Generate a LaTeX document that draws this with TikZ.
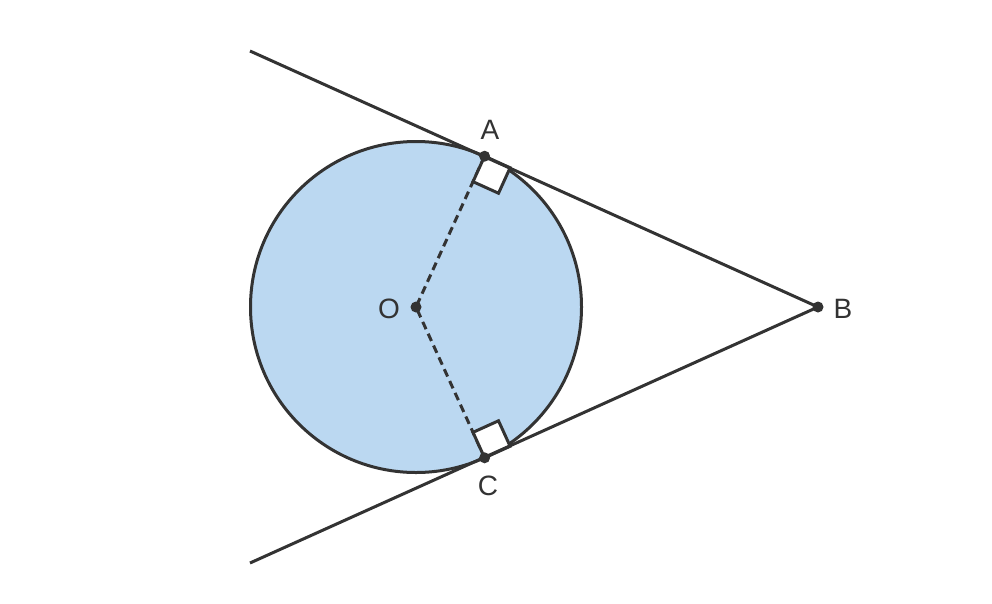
\documentclass[tikz,border=0pt]{standalone}
\usepackage{fontspec}
\setmainfont{Liberation Sans}
\usetikzlibrary{calc}
\definecolor{fillc}{HTML}{BBD8F1}
\definecolor{linec}{HTML}{333333}
\tikzset{lab/.style={text=linec,font=\fontsize{28}{30}\selectfont},
 dotp/.style={circle,fill=linec,inner sep=0pt,minimum size=11pt},
 geo/.style={draw=linec,line width=3pt}}
\begin{document}
\begin{tikzpicture}[x=1pt,y=-1pt]
\useasboundingbox (0,0) rectangle (992,603);
\coordinate (O) at (416,307);
\coordinate (B) at (818,307);
\coordinate (A) at (484.6,156.2);
\coordinate (C) at (484.6,457.8);
\coordinate (P) at (250,51);
\coordinate (Q) at (250,563);
\coordinate (A1) at ($(A)!28pt!(O)$);
\coordinate (A2) at ($(A)!28pt!(B)$);
\coordinate (A3) at ($(A1)+(A2)-(A)$);
\coordinate (C1) at ($(C)!28pt!(O)$);
\coordinate (C2) at ($(C)!28pt!(B)$);
\coordinate (C3) at ($(C1)+(C2)-(C)$);
\draw[geo,fill=fillc] (O) circle (165.5);
\draw[geo,dashed,dash pattern=on 8pt off 5pt] (A) -- (O) -- (C);
\draw[geo,fill=white] (A) -- (A1) -- (A3) -- (A2) -- cycle;
\draw[geo,fill=white] (C) -- (C1) -- (C3) -- (C2) -- cycle;
\draw[geo] (P) -- (B) -- (Q);
\node[dotp] (a) at (A) {};
\node[dotp] (b) at (B) {};
\node[dotp] (c) at (C) {};
\node[dotp] (o) at (O) {};
\node[lab] at (490,130) {A};
\node[lab] at (843,309) {B};
\node[lab] at (488,486) {C};
\node[lab] at (389,309) {O};
\end{tikzpicture}
\end{document}
